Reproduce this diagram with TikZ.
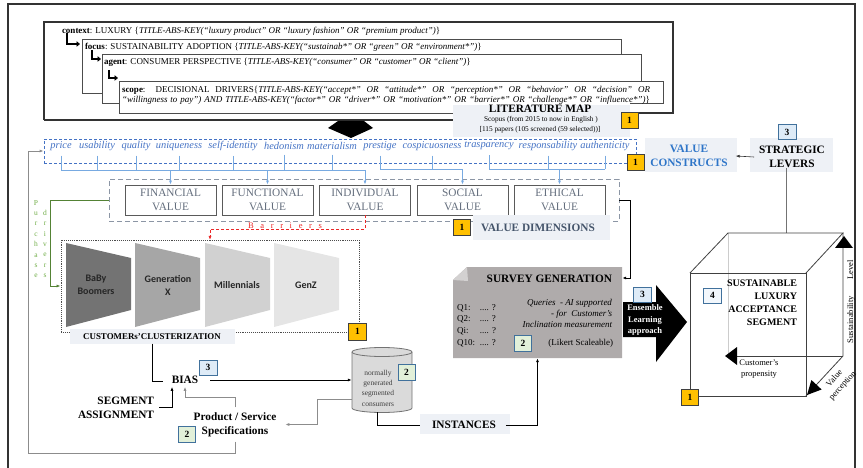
\documentclass[tikz,border=0pt]{standalone}
\usepackage{fontspec}
\setmainfont{Liberation Serif}
\newfontfamily\calfont{Carlito}
\usetikzlibrary{arrows.meta}
\definecolor{wblue}{RGB}{68,114,196}
\definecolor{lblue}{RGB}{120,170,225}
\definecolor{vcblue}{RGB}{46,117,200}
\definecolor{dimtxt}{RGB}{100,110,125}
\definecolor{dimline}{RGB}{90,90,90}
\definecolor{dimdash}{RGB}{140,150,165}
\definecolor{vdtxt}{RGB}{68,84,106}
\definecolor{orng}{RGB}{255,192,0}
\definecolor{cbblue}{RGB}{222,235,247}
\definecolor{cgreen}{RGB}{226,240,217}
\definecolor{badgeline}{RGB}{65,113,156}
\definecolor{gline}{RGB}{84,130,53}
\definecolor{gtext}{RGB}{112,173,71}
\definecolor{survey}{RGB}{175,171,171}
\definecolor{shade}{RGB}{238,241,246}
\definecolor{cylfill}{RGB}{218,218,218}
\definecolor{barred}{RGB}{235,40,40}
\tikzset{
  txt/.style={inner sep=0pt, outer sep=0pt},
  qt/.style={txt, anchor=west, font=\fontsize{9}{10}\selectfont},
  qline/.style={draw=black!70, line width=0.9pt},
  badge/.style={draw, line width=0.6pt, minimum width=17pt, minimum height=16pt, inner sep=0pt, font=\fontsize{9.5}{9.5}\selectfont\bfseries},
  obadge/.style={badge, fill=orng, draw=black!75},
  bbadge/.style={badge, fill=cbblue, draw=badgeline},
  gbadge/.style={badge, fill=cgreen, draw=badgeline},
  word/.style={txt, font=\fontsize{10.4}{10.4}\selectfont\itshape, text=wblue},
  dimnode/.style={draw=dimline, line width=0.9pt, minimum width=91pt, minimum height=30pt, inner sep=0pt, align=center, text=dimtxt, font=\fontsize{11.3}{14}\selectfont},
  lbl/.style={txt, align=center, font=\fontsize{11.3}{14}\selectfont\bfseries},
  shadebg/.style={fill=shade, draw=none},
  arr/.style={-{Latex[length=4pt,width=3pt]}},
  vline/.style={draw=lblue, line width=0.7pt},
  gconn/.style={draw=black!45, line width=0.8pt},
  gen/.style={txt, align=center, text=black!85, font=\calfont\bfseries\fontsize{10}{13}\selectfont},
  cube/.style={draw=black!75, line width=0.8pt},
  small/.style={txt, align=center, font=\fontsize{8.5}{11.5}\selectfont},
}
\begin{document}
\begin{tikzpicture}[x=1pt,y=-1pt]
\useasboundingbox (0,0) rectangle (863,468);
% outer frame
\draw[line width=1.2pt, black!80] (8,472) -- (8,4) -- (855,4) -- (855,472);

% ---------- literature map boxes ----------
\filldraw[qline, fill=white] (82,39) rectangle (621,93);
\filldraw[qline, fill=white] (102,54) rectangle (641,103);
\fill[white] (119,81) rectangle (663,113);
\draw[qline] (119,113) -- (119,81) -- (663,81) -- (663,103) -- (630,103);
\draw[qline] (119,113) -- (455,113);
\draw[qline, line width=1.1pt, draw=black!80] (44,120) -- (44,22) -- (673,22) -- (673,113) -- (638,113);
\draw[qline, line width=1.1pt, draw=black!80] (44,120) -- (455,120);
% bent arrows
\draw[line width=2pt, -{Triangle[length=3.5pt,width=5.5pt]}] (67,33) -- (67,44) -- (80,44);
\draw[line width=2pt, -{Triangle[length=3.5pt,width=5.5pt]}] (92,50) -- (92,59) -- (101,59);
\draw[line width=2pt, -{Triangle[length=3.5pt,width=5.5pt]}] (109,70) -- (109,78) -- (118,78);
% query texts
\node[qt] (ctx) at (62,31.5) {\textbf{context}: LUXURY \{\textit{TITLE-ABS-KEY(“luxury product” OR “luxury fashion” OR “premium product”)}\}};
\node[qt] (foc) at (85,47) {\textbf{focus}: SUSTAINABILITY ADOPTION \{\textit{TITLE-ABS-KEY(“sustainab*” OR “green” OR “environment*”)}\}};
\node[qt] (agt) at (104,62) {\textbf{agent}: CONSUMER PERSPECTIVE \{\textit{TITLE-ABS-KEY(“consumer” OR “customer” OR “client”)}\}};
\fill[shadebg] (453,105) rectangle (630,137);
\node[qt] (sc1) at (122,90) {\makebox[528pt][s]{\textbf{scope}: DECISIONAL DRIVERS\{\textit{TITLE-ABS-KEY(“accept*” OR “attitude*” OR “perception*” OR “behavior” OR “decision” OR}}};
\node[qt] (sc2) at (122,100) {\makebox[528pt][s]{\textit{“willingness to pay”) AND TITLE-ABS-KEY(“factor*” OR “driver*” OR “motivation*” OR “barrier*” OR “challenge*” OR “influence*”)}\}}};
\node[lbl] (lit) at (540,108.5) {LITERATURE MAP};
\node[txt, font=\fontsize{7.3}{7.3}\selectfont] (scop) at (541,119.5) {Scopus (from 2015 to now in English )};
\node[txt, font=\fontsize{7.3}{7.3}\selectfont] (pap) at (540,130) {[115 papers (105 screened (59 selected))]};
\node[obadge] (b1a) at (629.5,120) {1};
% big down arrow
\fill[black] (338,121) -- (364,121) -- (373,128) -- (351,138) -- (328,128) -- cycle;

% ---------- value constructs ----------
\node[draw=wblue, densely dashed, line width=0.8pt, minimum width=592pt, minimum height=24pt, inner sep=0pt] (vcb) at (340,151) {};
\node[word] (w1) at (61,146) {price};
\node[word] (w2) at (97,146) {usability};
\node[word] (w3) at (136,146) {quality};
\node[word] (w4) at (179,146) {uniqueness};
\node[word] (w5) at (233,146) {self-identity};
\node[word] (w6) at (284,146) {hedonism};
\node[word] (w7) at (332,146) {materialism};
\node[word] (w8) at (380,146) {prestige};
\node[word] (w9) at (432,146) {cospicuosness};
\node[word] (w10) at (489,146) {trasparency};
\node[word] (w11) at (548,146) {responsability};
\node[word] (w12) at (605,146) {authenticity};

% dimensions
\node[draw=dimdash, dash pattern=on 5pt off 3pt, line width=0.9pt, minimum width=510pt, minimum height=42pt, inner sep=0pt] (vdb) at (364,200) {};
\node[dimnode] (fin) at (170.5,200) {FINANCIAL\\VALUE};
\node[dimnode] (fun) at (267.5,200) {FUNCTIONAL\\VALUE};
\node[dimnode] (ind) at (365,200) {INDIVIDUAL\\VALUE};
\node[dimnode] (soc) at (462.5,200) {SOCIAL\\VALUE};
\node[dimnode] (eth) at (559.5,200) {ETHICAL\\VALUE};

\coordinate (busA) at (61,170);
\coordinate (busB) at (380,169);
\coordinate (busC) at (489,169);
\foreach \w in {w1,w2,w3,w4,w5,w6,w7}{\draw[vline] ([yshift=-5pt]\w.south) -- (\w.south |- busA);}
\foreach \w in {w8,w9}{\draw[vline] ([yshift=-5pt]\w.south) -- (\w.south |- busB);}
\foreach \w in {w10,w11,w12}{\draw[vline] ([yshift=-5pt]\w.south) -- (\w.south |- busC);}
\draw[vline] (w1.south |- busA) -- (ind.north |- busA);
\draw[vline] (w8.south |- busB) -- (soc.north |- busB);
\draw[vline] (w10.south |- busC) -- (w12.south |- busC);
\draw[vline, arr] (fin.north |- busA) -- (fin.north);
\draw[vline, arr] (fun.north |- busA) -- (fun.north);
\draw[vline, arr] (ind.north |- busA) -- (ind.north);
\draw[vline, arr] (soc.north |- busB) -- (soc.north);
\draw[vline, arr] (eth.north |- busC) -- (eth.north);

\node[obadge] (b1b) at (635.5,162.5) {1};
\fill[shadebg] (645,138) rectangle (737,172);
\node[lbl, text=vcblue] (vc) at (689,156) {VALUE\\CONSTRUCTS};
\fill[shadebg] (750,138) rectangle (833,172);
\node[lbl] (sl) at (792,157) {STRATEGIC\\LEVERS};
\node[bbadge, minimum width=18pt, minimum height=15pt] (b3a) at (787,132) {3};
\draw[arr, black!80, line width=0.6pt] ([xshift=-5pt]sl.west) -- ([xshift=8pt]vc.east);

\fill[shadebg] (473,215) rectangle (610,240);
\node[lbl, text=vdtxt] (vd) at (538,228) {VALUE DIMENSIONS};
\node[obadge] (b1c) at (462,227.5) {1};

% ---------- clusterization ----------
\node[draw=black!70, densely dotted, line width=0.9pt, minimum width=298pt, minimum height=92pt, inner sep=0pt] (clu) at (210,286) {};
\coordinate (barT) at (210,240);
\draw[barred, densely dashed, line width=0.9pt, arr] (ind.south) -- ++(0,14) -| (barT);
\node[txt, text=barred, font=\fontsize{8.5}{8.5}\selectfont] (barr) at (285,226) {\makebox[74pt][s]{B a r r i e r s}};

\coordinate (pdA) at (50,200);
\coordinate (pdB) at (50,286);
\draw[gline, line width=0.9pt, arr] (vdb.west) -- (pdA) -- (pdB) -- (clu.west);
\node[txt, text=gtext, align=center, font=\fontsize{7.5}{10.4}\selectfont] (pur) at (36,239) {P\\u\\r\\c\\h\\a\\s\\e};
\node[txt, text=gtext, align=center, font=\fontsize{7.5}{10.4}\selectfont] (drv) at (45,244) {d\\r\\i\\v\\e\\r\\s};

\fill[black!55] (66,243) -- (131,258) -- (131,310) -- (66,327) -- cycle;
\fill[black!35] (135,243) -- (200,258) -- (200,310) -- (135,327) -- cycle;
\fill[black!18] (205,243) -- (270,258) -- (270,310) -- (205,327) -- cycle;
\fill[black!10] (274,243) -- (339,258) -- (339,310) -- (274,327) -- cycle;
\node[gen] (bb) at (96,285) {BaBy\\Boomers};
\node[gen] (gx) at (168,285) {Generation\\X};
\node[gen] (mil) at (237,285) {Millennials};
\node[gen] (gz) at (306,285) {GenZ};

\fill[shadebg] (70,329) rectangle (235,344);
\node[txt, font=\fontsize{8.9}{8.9}\selectfont\bfseries] (cl) at (152,336.5) {CUSTOMERs’CLUSTERIZATION};
\node[obadge, minimum width=18pt, minimum height=17pt] (b1d) at (357.5,331.5) {1};

% ---------- bias / segment ----------
\node[lbl] (bias) at (185,380) {BIAS};
\node[bbadge, minimum width=18pt, minimum height=15pt] (b3b) at (208,367.5) {3};
\coordinate (cbend) at (152,381);
\draw[line width=0.8pt] ([yshift=-4pt]cl.south) -- (cbend) -- ([xshift=-9pt]bias.west |- cbend);

\node[minimum width=60pt, minimum height=64pt, inner sep=0pt] (cyl) at (382,380) {};
\filldraw[fill=cylfill, draw=black!55, line width=0.8pt] (352,352) -- (352,408) arc[start angle=180, end angle=0, x radius=30, y radius=4.5] -- (412,352) arc[start angle=0, end angle=-180, x radius=30, y radius=4.5] -- cycle;
\draw[black!55, line width=0.8pt] (352,352) arc[start angle=180, end angle=0, x radius=30, y radius=4.5];
\node[txt, align=center, text=black!75, font=\fontsize{7.5}{10.3}\selectfont] (cyltxt) at (378,388) {normally\\generated\\segmented\\consumers};
\node[gbadge] (b2a) at (406.5,372.5) {2};
\draw[arr, line width=0.8pt] ([xshift=12pt]bias.east) -- (bias.east -| cyl.west);

\node[lbl, anchor=east, align=right] (seg) at (154,407.5) {SEGMENT\\ASSIGNMENT};
\draw[arr, line width=0.8pt] ([xshift=5pt]seg.east) -| ([xshift=-13pt,yshift=-3pt]bias.south);

\node[lbl] (prod) at (235,424.5) {Product / Service\\Specifications};
\node[gbadge] (b2b) at (187,434.5) {2};
\draw[gconn, arr] ([yshift=5pt]prod.north) -- ++(0,-10) -| ([yshift=-3pt]bias.south);
\draw[gconn, arr] ([yshift=-19pt]cyl.west) -- ++(-34,0) |- ([xshift=9pt]prod.east);
\coordinate (loopB) at (28,453);
\coordinate (loopT) at (28,151);
\draw[gconn, arr] ([yshift=-5pt]prod.south) -- (prod.south |- loopB) -- (loopB) -- (loopT) -- (vcb.west);

% ---------- survey ----------
\node[minimum width=169pt, minimum height=91pt, inner sep=0pt] (sv) at (537.5,312.5) {};
\fill[survey] (453,280) -- (467,267) -- (622,267) -- (622,358) -- (453,358) -- cycle;
\fill[survey!55!white] (453,280) -- (467,267) -- (468,281) -- cycle;
\node[txt, anchor=east, font=\fontsize{11.3}{11.3}\selectfont\bfseries] (svt) at (612,279) {SURVEY GENERATION};
\node[txt, anchor=east, align=right, font=\fontsize{9}{11}\selectfont\itshape] (svq) at (612,313) {Queries\ \ - AI supported\\- for\ \ Customer’s\\Inclination measurement};
\node[txt, anchor=east, font=\fontsize{9}{9}\selectfont] (lik) at (613,343) {(Likert Scaleable)};
\node[txt, anchor=west, font=\fontsize{9}{9}\selectfont] (q1) at (457,308) {\makebox[23pt][l]{Q1:}.... ?};
\node[txt, anchor=west, font=\fontsize{9}{9}\selectfont] (q2) at (457,319) {\makebox[23pt][l]{Q2:}.... ?};
\node[txt, anchor=west, font=\fontsize{9}{9}\selectfont] (q3) at (457,331) {\makebox[23pt][l]{Qi:}.... ?};
\node[txt, anchor=west, font=\fontsize{9}{9}\selectfont] (q4) at (457,343) {\makebox[23pt][l]{Q10:}.... ?};
\node[gbadge] (b2c) at (523,343) {2};
\coordinate (dsA) at (630,200);
\draw[arr, line width=0.8pt] (vdb.east) -- (dsA) |- ([yshift=34.5pt]sv.east);

\fill[shadebg] (420,414) rectangle (510,434);
\node[lbl] (inst) at (464,425) {INSTANCES};
\draw[line width=0.8pt] ([xshift=-5pt]cyl.south) |- ([xshift=-12pt]inst.west);
\draw[arr, line width=0.8pt] ([xshift=10pt]inst.east) -| (sv.south);

% ensemble arrow
\fill[black] (623,302) -- (656,302) -- (656,285) -- (687,322) -- (656,362) -- (656,337) -- (623,337) -- cycle;
\node[txt, align=center, text=white, font=\fontsize{8.5}{11.5}\selectfont\bfseries] (ens) at (645,320) {Ensemble\\Learning\\approach};
\node[bbadge, minimum width=18pt, minimum height=15pt] (b3c) at (642.5,294.5) {3};

% ---------- cube ----------
\coordinate (cubeTop) at (786,233);
\draw[black!55, line width=0.7pt] (sl.south -| cubeTop) -- (cubeTop);
\draw[black!20, line width=0.5pt] (728,233) -- (728,356);
\draw[cube] (690,273) rectangle (806,396);
\draw[cube] (690,273) -- (728,233) -- (843,233) -- (806,273);
\draw[cube] (843,233) -- (843,356) -- (806,396);
\draw[cube] (728,356) -- (843,356);
\fill[black] (835,248) -- (853,248) -- (844,236) -- cycle;
\fill[black] (725,356) -- (737,347) -- (737,365) -- cycle;
\fill[black] (807,395) -- (811.4,380) -- (821.6,389.5) -- cycle;
\node[txt, anchor=east, align=right, font=\fontsize{10}{13}\selectfont\bfseries] (sla) at (797,302.5) {SUSTAINABLE\\LUXURY\\ACCEPTANCE\\SEGMENT};
\node[bbadge, fill=cbblue!40, minimum width=18pt, minimum height=15pt] (b4) at (712.5,295.5) {4};
\node[obadge] (b1e) at (690,397) {1};
\node[small, rotate=90] (sus) at (851,301.5) {\makebox[83pt][s]{Sustainability Level}};
\node[small] (cp) at (759,369) {Customer’s\\propensity};
\node[small, rotate=48] (vp1) at (834,378) {Value};
\node[small, rotate=48] (vp2) at (843,386) {perception};
\end{tikzpicture}
\end{document}
